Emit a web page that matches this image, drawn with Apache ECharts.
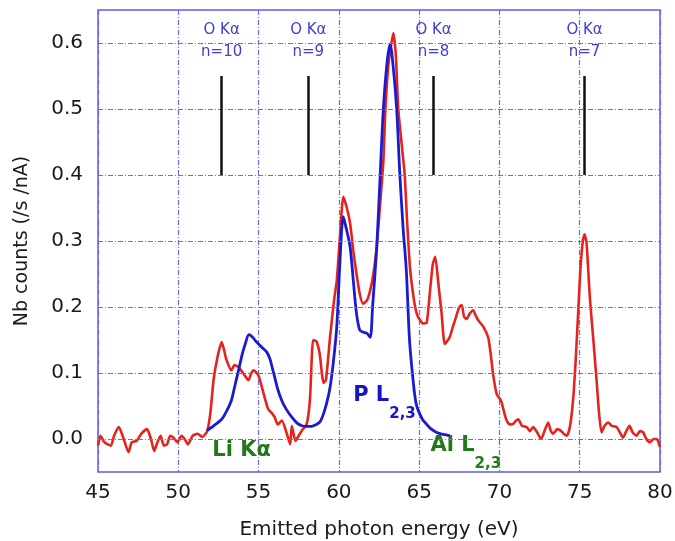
<!DOCTYPE html>
<html>
<head>
<meta charset="utf-8">
<script src="https://cdn.jsdelivr.net/npm/echarts@6/dist/echarts.min.js"></script>
<style>
  html, body { margin: 0; padding: 0; background: #fff; }
  #chart { width: 675px; height: 541px; }
</style>
</head>
<body>
<div id="chart"></div>
<script>
// measured spectrum (red)
var redEnergy = [45.0, 45.15, 45.4, 45.8, 46.0, 46.3, 46.6, 46.9, 47.1, 47.4, 47.7, 48.05, 48.3, 48.5, 48.7, 48.9, 49.1, 49.3, 49.5, 49.7, 49.95, 50.2, 50.4, 50.6, 50.9, 51.2, 51.5, 51.8,
  52.0, 52.2, 52.45, 52.7, 52.85, 53.0, 53.3, 53.5, 53.75, 54.06, 54.37, 54.55, 54.7, 55.0, 55.3, 55.6, 55.8, 56.0, 56.2, 56.45, 56.76, 56.97, 57.07, 57.3, 57.5, 57.7, 58.0,
  58.2, 58.4, 58.6, 58.8, 59.05, 59.2, 59.45, 59.7, 59.87, 60.05, 60.28, 60.5, 60.7, 60.9, 61.1, 61.3, 61.5, 61.75, 61.95, 62.15, 62.36, 62.55, 62.77, 62.9, 63.1, 63.4,
  63.55, 63.7, 63.9, 64.1, 64.25, 64.43, 64.65, 64.85, 65.06, 65.26, 65.47, 65.7, 65.85, 66.0, 66.2, 66.4, 66.6, 66.9, 67.1, 67.3, 67.5, 67.65, 67.8, 67.96, 68.15, 68.37,
  68.5, 68.68, 69.0, 69.3, 69.45, 69.6, 69.83, 70.1, 70.3, 70.45, 70.65, 70.86, 71.0, 71.17, 71.4, 71.7, 71.9, 72.1, 72.35, 72.6, 72.85, 73.04, 73.2, 73.35, 73.6, 73.8,
  74.0, 74.2, 74.4, 74.6, 74.75, 74.9, 75.05, 75.2, 75.3, 75.43, 75.63, 75.85, 76.05, 76.2, 76.36, 76.55, 76.78, 77.0, 77.3, 77.5, 77.7, 77.9, 78.1, 78.3, 78.54, 78.75,
  78.95, 79.15, 79.37, 79.6, 79.8, 80.0];
var redCounts = [-0.01, 0.005, -0.005, -0.01, 0.005, 0.018, 0.0, -0.02, -0.005, -0.003, 0.008, 0.015, 0.0, -0.018, -0.005, 0.005, -0.01, -0.008, 0.005, 0.002, -0.005, 0.005, 0.0, -0.008, 0.005, 0.008, 0.003, 0.012,
  0.04, 0.09, 0.125, 0.147, 0.135, 0.12, 0.104, 0.112, 0.109, 0.099, 0.089, 0.1, 0.104, 0.096, 0.07, 0.045, 0.04, 0.033, 0.022, 0.028, 0.008, -0.008, 0.02, -0.003, 0.005, 0.013, 0.023,
  0.06, 0.15, 0.148, 0.13, 0.085, 0.09, 0.154, 0.21, 0.24, 0.3, 0.367, 0.35, 0.327, 0.285, 0.25, 0.22, 0.205, 0.21, 0.225, 0.25, 0.291, 0.35, 0.42, 0.5, 0.57, 0.615,
  0.58, 0.5, 0.45, 0.4, 0.33, 0.26, 0.215, 0.19, 0.18, 0.175, 0.176, 0.23, 0.265, 0.276, 0.235, 0.19, 0.144, 0.154, 0.17, 0.185, 0.2, 0.203, 0.185, 0.182, 0.19, 0.195,
  0.188, 0.18, 0.17, 0.154, 0.13, 0.099, 0.068, 0.058, 0.04, 0.028, 0.022, 0.023, 0.027, 0.03, 0.02, 0.018, 0.012, 0.018, 0.01, 0.0, 0.015, 0.025, 0.012, 0.008, 0.015, 0.013,
  0.008, 0.005, 0.02, 0.063, 0.12, 0.19, 0.26, 0.301, 0.31, 0.296, 0.215, 0.15, 0.089, 0.04, 0.01, 0.02, 0.025, 0.02, 0.018, 0.01, 0.002, 0.012, 0.02, 0.01, 0.005, 0.012,
  0.01, 0.0, -0.005, 0.0, 0.0, -0.012];

// P L2,3 reference spectrum (blue)
var blueEnergy = [51.8, 52.2, 52.7, 53.0, 53.3, 53.5, 53.75, 54.0, 54.17, 54.4, 54.6, 54.8, 55.0, 55.2, 55.5, 55.7, 55.85, 56.0, 56.2, 56.45, 56.7, 57.07, 57.4, 57.7, 58.0, 58.3,
  58.6, 58.83, 59.04, 59.25, 59.45, 59.65, 59.87, 60.05, 60.28, 60.45, 60.7, 60.9, 61.1, 61.3, 61.5, 61.75, 61.95, 62.1, 62.36, 62.57, 62.77, 63.0, 63.19, 63.4, 63.6, 63.8,
  64.0, 64.2, 64.4, 64.64, 64.8, 64.95, 65.2, 65.37, 65.7, 66.1, 66.5, 66.9];
var blueCounts = [0.013, 0.02, 0.03, 0.042, 0.058, 0.078, 0.104, 0.13, 0.144, 0.158, 0.155, 0.149, 0.144, 0.139, 0.132, 0.122, 0.108, 0.094, 0.075, 0.058, 0.046, 0.033, 0.024, 0.02, 0.019, 0.019,
  0.022, 0.026, 0.038, 0.055, 0.078, 0.115, 0.17, 0.26, 0.337, 0.32, 0.291, 0.24, 0.19, 0.165, 0.162, 0.16, 0.154, 0.2, 0.291, 0.398, 0.5, 0.57, 0.598, 0.56, 0.5, 0.4,
  0.32, 0.256, 0.15, 0.085, 0.055, 0.043, 0.03, 0.025, 0.016, 0.01, 0.007, 0.005];

// y tick values (gridlines + labels)
var countTicks = [0.0, 0.1, 0.2, 0.3, 0.4, 0.5, 0.6];

// O K-alpha harmonic positions
var oKaEnergy = [52.7, 58.1, 65.9, 75.3];
var oKaOrder = [10, 9, 8, 7];
var oKaBar = [0.4, 0.55];
var oKaLabelAt = 0.603;

// line names
var lineNames = ['Li Kα', 'P L', 'Al L'];
var lineSubs = ['', '2,3', '2,3'];
var lineEnergy = [52.12, 60.89, 65.7];
var lineLevel = [-0.018, 0.054, -0.022];
var lineColors = ['#23781a', '#1515cc', '#23781a'];

function zip(xs, ys) {
  return xs.map(function (x, i) { return [x, ys[i]]; });
}

var gridBlue = '#5f5fe0';
var dashBlue = '#6b6bea';
var dashType = [5, 2, 1, 2];
var chart = echarts.init(document.getElementById('chart'));

var option = {
  animation: false,
  grid: {
    left: 98, right: 15, top: 10, bottom: 69,
    outerBoundsMode: 'none',
    show: true, borderColor: gridBlue, borderWidth: 1.5
  },
  xAxis: {
    type: 'value', min: 45, max: 80, interval: 5,
    name: 'Emitted photon energy (eV)', nameLocation: 'middle', nameGap: 48,
    nameTextStyle: { fontFamily: 'DejaVu Sans', fontSize: 20, color: '#1a1a1a' },
    axisLine: { show: false },
    axisTick: { show: false },
    axisLabel: { fontFamily: 'DejaVu Sans', fontSize: 20, color: '#1a1a1a', margin: 11 },
    splitLine: { show: true, lineStyle: { color: dashBlue, width: 1.2, type: dashType } }
  },
  yAxis: {
    type: 'value', min: -0.05, max: 0.65, interval: 0.05,
    name: 'Nb counts (/s /nA)', nameLocation: 'middle', nameGap: 66,
    nameTextStyle: { fontFamily: 'DejaVu Sans', fontSize: 19, color: '#1a1a1a' },
    axisLine: { show: false },
    axisTick: { show: false },
    axisLabel: {
      fontFamily: 'DejaVu Sans', fontSize: 20, color: '#1a1a1a', margin: 15,
      formatter: function (v) {
        var t = Math.round(v * 100);
        return (t % 10 === 0) ? (t / 100).toFixed(1) : '';
      }
    },
    splitLine: { show: false }
  },
  series: [
    {
      name: 'grid', type: 'line', data: [], z: 1, silent: true,
      markLine: {
        silent: true, symbol: 'none', animation: false,
        lineStyle: { color: dashBlue, width: 1.2, type: dashType },
        label: { show: false },
        emphasis: { disabled: true },
        data: countTicks.map(function (v) { return { yAxis: v }; })
      }
    },
    {
      name: 'measured', type: 'line', data: zip(redEnergy, redCounts),
      showSymbol: false, smooth: 0.2, z: 3,
      lineStyle: { color: '#e5231e', width: 2.6 }
    },
    {
      name: 'P L2,3', type: 'line', data: zip(blueEnergy, blueCounts),
      showSymbol: false, smooth: 0.3, z: 4,
      lineStyle: { color: '#1a1ad0', width: 2.8 }
    },
    {
      name: 'O Ka', type: 'scatter', symbolSize: 0, silent: true,
      itemStyle: { opacity: 1 },
      data: oKaEnergy.map(function (e, i) { return { value: [e, oKaLabelAt], n: oKaOrder[i] }; }),
      label: {
        show: true, position: 'inside', align: 'center', verticalAlign: 'middle',
        fontFamily: 'DejaVu Sans', fontSize: 15, lineHeight: 22, color: '#4040cc',
        formatter: function (p) { return 'O Kα\nn=' + p.data.n; }
      },
      markLine: {
        silent: true, symbol: 'none',
        lineStyle: { color: '#111', width: 2.5, type: 'solid' },
        label: { show: false },
        data: oKaEnergy.map(function (e) { return [{ coord: [e, oKaBar[0]] }, { coord: [e, oKaBar[1]] }]; })
      }
    },
    {
      name: 'lines', type: 'scatter', symbolSize: 0, silent: true,
      itemStyle: { opacity: 1 },
      data: lineNames.map(function (n, i) {
        return {
          value: [lineEnergy[i], lineLevel[i]],
          label: {
            color: lineColors[i],
            formatter: '{a|' + n + '}' + (lineSubs[i] ? '{s|' + lineSubs[i] + '}' : ''),
            rich: {
              a: { fontFamily: 'DejaVu Sans', fontWeight: 'bold', fontSize: 21, lineHeight: 21, color: lineColors[i], verticalAlign: 'top' },
              s: { fontFamily: 'DejaVu Sans', fontWeight: 'bold', fontSize: 15, lineHeight: 36, color: lineColors[i], verticalAlign: 'bottom' }
            }
          }
        };
      }),
      label: { show: true, position: 'right', distance: 0 }
    }
  ]
};

chart.setOption(option);
</script>
</body>
</html>
